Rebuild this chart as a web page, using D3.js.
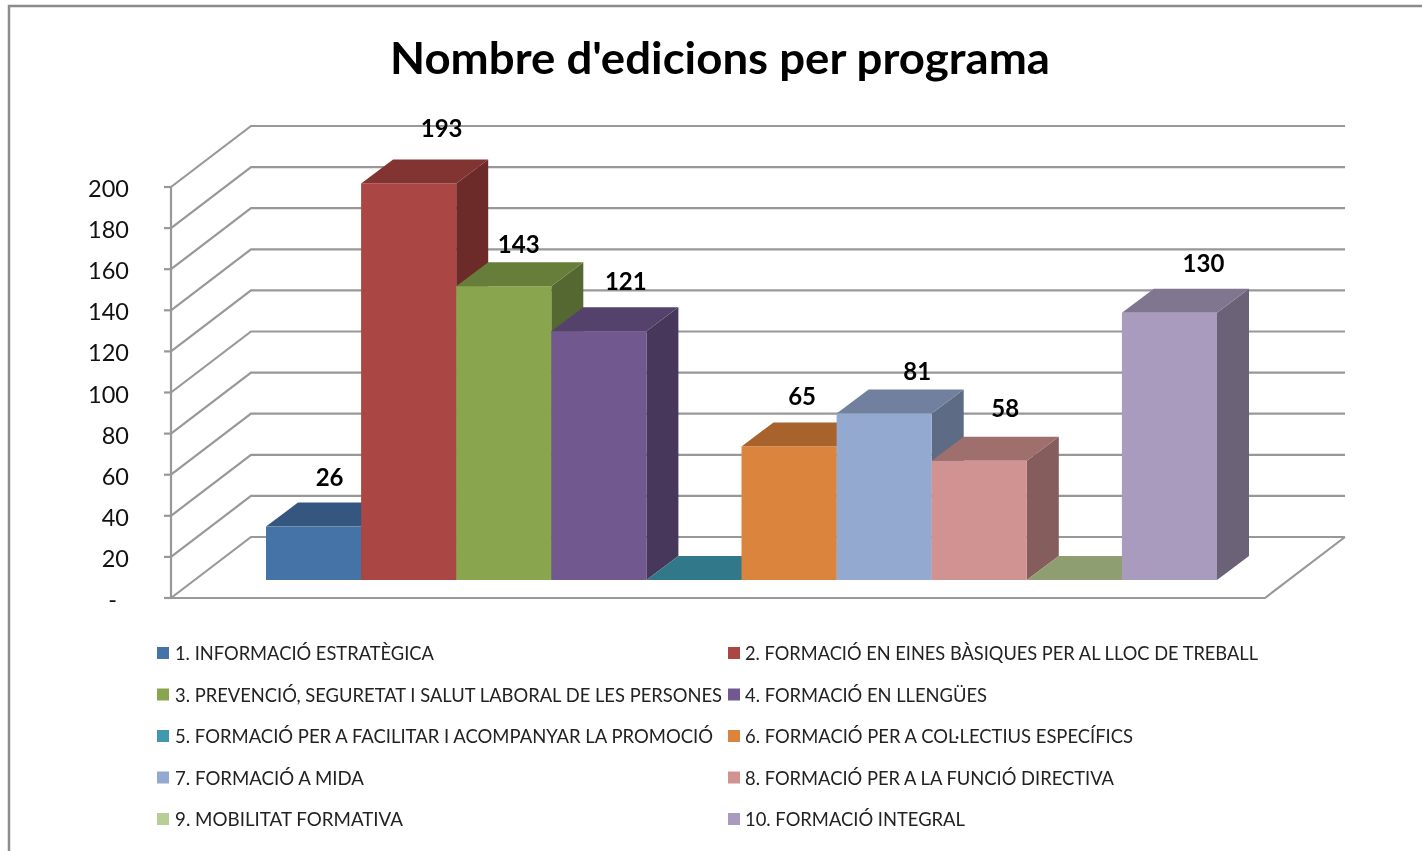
<!DOCTYPE html>
<html>
<head>
<meta charset="utf-8">
<script src="https://cdn.jsdelivr.net/npm/d3@7"></script>
<style>
  html, body { margin: 0; padding: 0; background: #fff; overflow: hidden; }
  text { font-family: Lato, "Open Sans", sans-serif; }
  svg { filter: blur(0.45px); }
</style>
</head>
<body>
<div id="chart"></div>
<script>
const categories = [
  "1. INFORMACIÓ ESTRATÈGICA",
  "2. FORMACIÓ EN EINES BÀSIQUES PER AL LLOC DE TREBALL",
  "3. PREVENCIÓ, SEGURETAT I SALUT LABORAL DE LES PERSONES",
  "4. FORMACIÓ EN LLENGÜES",
  "5. FORMACIÓ PER A FACILITAR I ACOMPANYAR LA PROMOCIÓ",
  "6. FORMACIÓ PER A COL·LECTIUS ESPECÍFICS",
  "7. FORMACIÓ A MIDA",
  "8. FORMACIÓ PER A LA FUNCIÓ DIRECTIVA",
  "9. MOBILITAT FORMATIVA",
  "10. FORMACIÓ INTEGRAL"
];
const values = [26, 193, 143, 121, 0, 65, 81, 58, 0, 130];
const yTicks = [0, 20, 40, 60, 80, 100, 120, 140, 160, 180, 200];
const frontColors = ["#4572a7", "#aa4643", "#89a54e", "#71588f", "#4198af", "#db843d", "#93a9cf", "#d19392", "#b9cd96", "#a99bbd"];
const topColors = ["#34567f", "#813432", "#677d3a", "#55426c", "#31788a", "#a7632b", "#70809e", "#9f6f6e", "#8e9e70", "#81768f"];
const sideColors = ["#2a4565", "#6c2b29", "#566831", "#47375b", "#296574", "#8c5324", "#5d6b84", "#855d5c", "#77845e", "#6b6278"];
const titleText = "Nombre d'edicions per programa";

const w = 1422,
      h = 851;

// depth of the 3d box and of the bars
const wallDx = 80, wallDy = -61;
const barDx = 32, barDy = -24;

// small nudges for the data labels, from the bar's top corner
const labelNudge = [[16, -49], [33, -54], [15, -41], [27, -49], [0, 0], [13, -49], [33, -42], [26, -52], [0, 0], [34, -49]];
// lato runs a little different from the original font, so fit each legend entry
const legendWidths = [259, 513, 547, 242, 538, 388, 189, 369, 228, 220];

const svg = d3.select("#chart")
  .append("svg")
  .attr("width", w)
  .attr("height", h)
  .style("display", "block");

// frame, cut off by the photo at right and bottom
svg.append("path")
  .attr("d", "M9,860V6H1430")
  .attr("fill", "none")
  .attr("stroke", "#8c8c8c")
  .attr("stroke-width", 2.5);

svg.append("text")
  .attr("x", 720)
  .attr("y", 74)
  .attr("text-anchor", "middle")
  .attr("font-size", 43)
  .attr("font-weight", 700)
  .attr("textLength", 660)
  .attr("lengthAdjust", "spacingAndGlyphs")
  .attr("fill", "#000")
  .text(titleText);

const yScale = d3.scaleLinear().domain([0, 200]).range([598, 187]);
const xFront = d3.scaleLinear().domain([0, 1]).range([171, 1265]);
const xBars = d3.scaleBand().domain(categories).range([266, 1217]).padding(0);

// bars stand a bit behind the front edge of the floor
const barBase = 580;
const barY = v => barBase - (yScale(0) - yScale(v));

const grid = svg.append("g")
  .attr("fill", "none")
  .attr("stroke", "#989898")
  .attr("stroke-width", 2.2);

yTicks.forEach(t => {
  grid.append("path")
    .attr("d", `M${xFront(0)},${yScale(t)}L${xFront(0) + wallDx},${yScale(t) + wallDy}H${xFront(1) + wallDx}`);
});
// floor + left wall
grid.append("path")
  .attr("d", `M${xFront(0)},${yScale(200)}V${yScale(0)}H${xFront(1)}L${xFront(1) + wallDx},${yScale(0) + wallDy}`);

const yAxisG = svg.append("g");
yAxisG.selectAll("line")
  .data(yTicks)
  .enter()
  .append("line")
  .attr("x1", xFront(0) - 7)
  .attr("x2", xFront(0))
  .attr("y1", d => yScale(d))
  .attr("y2", d => yScale(d))
  .attr("stroke", "#989898")
  .attr("stroke-width", 2.2);

yAxisG.selectAll("text")
  .data(yTicks)
  .enter()
  .append("text")
  .attr("x", d => d === 0 ? 117 : 129)
  .attr("y", d => yScale(d) + 10)
  .attr("text-anchor", "end")
  .attr("font-size", 23.5)
  .attr("fill", "#111")
  .text(d => d === 0 ? "-" : d);

const bars = svg.selectAll(".bar")
  .data(categories.map((c, i) => ({name: c, value: values[i], i: i})))
  .enter()
  .append("g")
  .attr("class", "bar");

// side
bars.filter(d => d.value > 0).append("path")
  .attr("fill", d => sideColors[d.i])
  .attr("d", d => {
    const x = xBars(d.name) + xBars.bandwidth();
    return `M${x},${barBase}L${x + barDx},${barBase + barDy}V${barY(d.value) + barDy}L${x},${barY(d.value)}Z`;
  });

// top
bars.append("path")
  .attr("fill", d => topColors[d.i])
  .attr("d", d => {
    const x = xBars(d.name), b = xBars.bandwidth(), y = barY(d.value);
    return `M${x},${y}L${x + barDx},${y + barDy}H${x + b + barDx}L${x + b},${y}Z`;
  });

// front
bars.filter(d => d.value > 0).append("rect")
  .attr("x", d => xBars(d.name))
  .attr("y", d => barY(d.value))
  .attr("width", xBars.bandwidth())
  .attr("height", d => barBase - barY(d.value))
  .attr("fill", d => frontColors[d.i]);

// labels go on top of everything
svg.selectAll(".val")
  .data(categories.map((c, i) => ({name: c, value: values[i], i: i})).filter(d => d.value > 0))
  .enter()
  .append("text")
  .attr("class", "val")
  .attr("x", d => xBars(d.name) + xBars.bandwidth() / 2 + labelNudge[d.i][0])
  .attr("y", d => barY(d.value) + labelNudge[d.i][1] + 8)
  .attr("text-anchor", "middle")
  .attr("font-size", 24)
  .attr("font-weight", 700)
  .attr("fill", "#000")
  .text(d => d.value);

// legend, two columns
const legendX = [157, 728];
const legendY = d3.scaleLinear().domain([0, 4]).range([653, 819]);

const legend = svg.selectAll(".legend")
  .data(categories)
  .enter()
  .append("g")
  .attr("class", "legend")
  .attr("transform", (d, i) => "translate(" + legendX[i % 2] + "," + legendY(Math.floor(i / 2)) + ")");

legend.append("rect")
  .attr("x", 0)
  .attr("y", -6)
  .attr("width", 12)
  .attr("height", 12)
  .attr("fill", (d, i) => frontColors[i]);

legend.append("text")
  .attr("x", (d, i) => i % 2 ? 17 : 18)
  .attr("y", 7)
  .attr("font-size", 18.3)
  .attr("textLength", (d, i) => legendWidths[i])
  .attr("lengthAdjust", "spacingAndGlyphs")
  .attr("fill", "#222")
  .text(d => d);
</script>
</body>
</html>
